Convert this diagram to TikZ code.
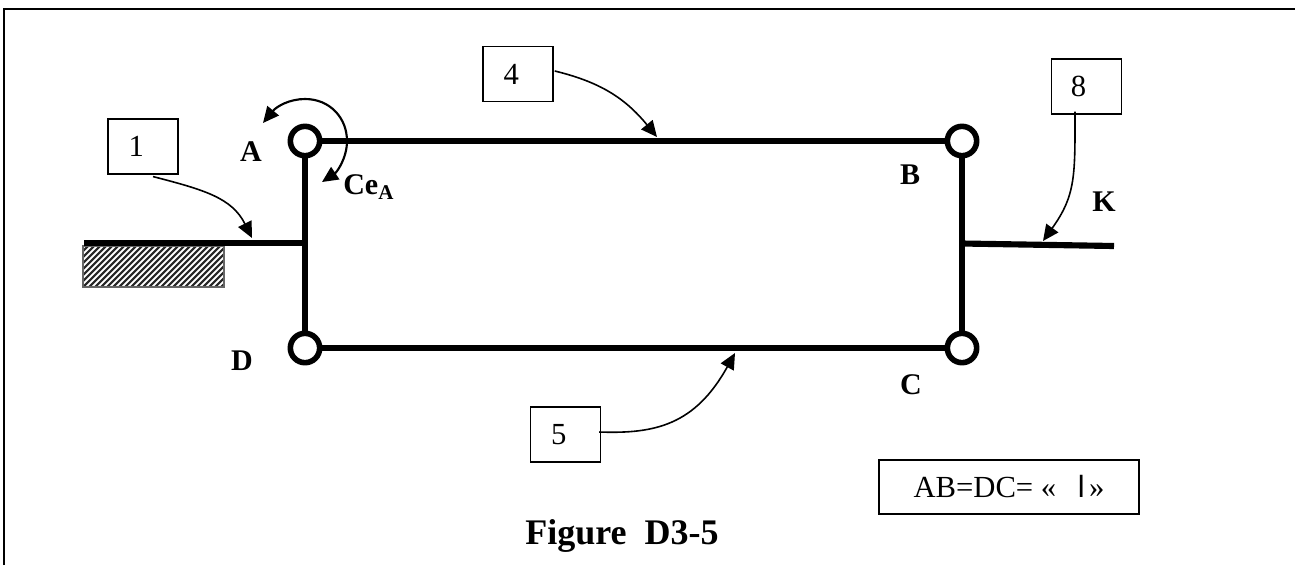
\documentclass[tikz,border=0pt]{standalone}
\usepackage{fontspec}
\setmainfont{Liberation Serif}
\newfontfamily\labsans{Liberation Sans}
\usetikzlibrary{arrows.meta,calc}
\tikzset{
  px/.style={x=0.75pt,y=-0.75pt},
  numbox/.style={draw=black,line width=1.1pt,minimum width=52.5pt,minimum height=41pt,inner sep=0pt,font=\fontsize{23}{25}\selectfont},
  bar/.style={line width=4.6pt,line cap=butt},
  pin/.style={circle,draw=black,fill=white,line width=4.2pt,minimum size=22pt,inner sep=0pt},
  lab/.style={font=\bfseries\fontsize{22.5}{25}\selectfont,inner sep=0pt},
  lead/.style={line width=1.2pt,-{Triangle[length=12pt,width=11pt]}},
}
\begin{document}
\begin{tikzpicture}[px]
\useasboundingbox (0,0) rectangle (1295,565);
\fill[white] (0,0) rectangle (1295,565);
\draw[line width=1.5pt] (4,565) -- (4,9) -- (1295,9);
% hatching
\begin{scope}
\clip (83,246) rectangle (224,287);
\foreach \i in {0,...,36}{\draw[line width=1.6pt,black!85] (30+6*\i,292) -- ++(50,-50);}
\end{scope}
\draw[line width=1pt,black!60] (83,246) rectangle (224,287);
\coordinate (wl) at (84,243);
\coordinate (wm) at (305,243);
\coordinate (kl) at (962,243.5);
\coordinate (kr) at (1114,246);
\node[pin] (A) at (305,141) {};
\node[pin] (B) at (962,141) {};
\node[pin] (C) at (962,348) {};
\node[pin] (D) at (305,348) {};
\draw[bar] (A) -- (B);
\draw[bar] (B) -- (C);
\draw[bar] (C) -- (D);
\draw[bar] (D) -- (A);
\draw[bar] (wl) -- (wm);
\draw[bar] (kl) -- (kr);
\node[numbox] (n1) at (143,146.5) {\hspace*{-10pt}\raisebox{-1.2pt}{1}};
\node[numbox] (n4) at (518,74) {\hspace*{-10pt}\raisebox{-0.8pt}{4}};
\node[numbox] (n8) at (1086.5,86.5) {\hspace*{-12pt}\raisebox{-1.2pt}{8}};
\node[numbox] (n5) at (565.5,434.5) {\hspace*{-10pt}\raisebox{-0.8pt}{5}};
\node[draw=black,line width=1.3pt,minimum width=195pt,minimum height=40.5pt,inner sep=0pt,font=\fontsize{23}{25}\selectfont] (ab) at (1009,487) {AB=DC= «\hspace{0.7em}{\labsans l}\hspace{0.15em}»};
\coordinate (t1) at (252,238);
\coordinate (t4) at (657,137);
\coordinate (t8) at (1043,241);
\coordinate (t5) at (735,353);
\coordinate (tipa) at (263,123);
\coordinate (tipb) at (322,182);
\draw[lead] ($(n1.south)+(10,2)$) .. controls (205,190) and (232,198) .. (t1);
\draw[lead] ($(n4.east)+(1,-3)$) .. controls (600,82) and (625,98) .. (t4);
\draw[lead] ($(n8.south)+(-11.5,-3)$) .. controls (1075,175) and (1076,195) .. (t8);
\draw[lead] ($(n5.east)+(-2,-2.5)$) .. controls (655,434) and (695,425) .. (t5);
\draw[line width=1.6pt,{Triangle[length=12pt,width=11pt]}-{Triangle[length=12pt,width=11pt]}] (tipa) .. controls (277,106) and (290,99) .. (305,99) .. controls (330,99) and (347,118) .. (347,141) .. controls (347,158) and (337,172) .. (tipb);
\node[lab] (la) at (251,152) {A};
\node[lab] (lb) at (910,175) {B};
\node[lab] (lc) at (911,385) {C};
\node[lab] (ld) at (242,361) {D};
\node[lab] (lk) at (1104,202) {K};
\node[lab,anchor=west] (lce) at (343,187) {Ce\textsubscript{A}};
\node[font=\bfseries\fontsize{27}{30}\selectfont,inner sep=0pt] (fig) at (622,536) {Figure\hspace{0.5em}D3-5};
\end{tikzpicture}
\end{document}
